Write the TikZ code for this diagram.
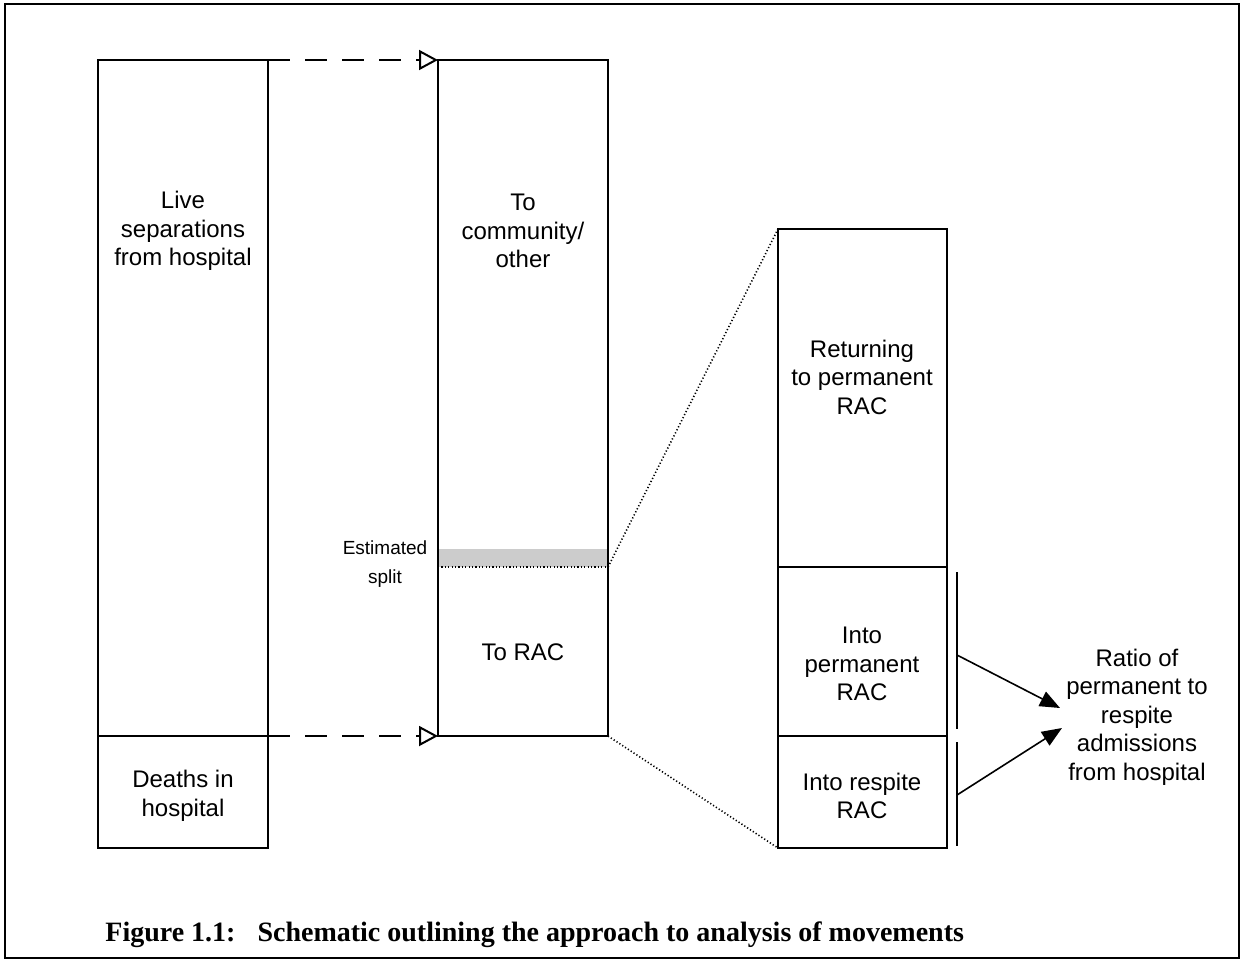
\documentclass[tikz,border=0pt]{standalone}
\usepackage{fontspec}
\setmainfont{Liberation Sans}
\newfontfamily\capfont{Liberation Serif}
\usetikzlibrary{arrows.meta}
\usetikzlibrary{positioning}

\tikzset{
  colbox/.style={line width=0.8pt},
  lbl/.style={align=center, font=\fontsize{12}{14.25}\selectfont},
  small/.style={align=center, font=\fontsize{9.5}{14.5}\selectfont},
  flow/.style={line width=1pt, dash pattern=on 11pt off 7.5pt, -{Triangle[open,length=9.5pt,width=10pt]}},
  zoomline/.style={line width=0.8pt, dash pattern=on 0.6pt off 1.1pt},
  ratio/.style={line width=0.8pt, -{Triangle[length=10pt,width=8pt]}},
}

\begin{document}
\begin{tikzpicture}[x=0.5pt,y=-0.5pt]
\useasboundingbox (0,0) rectangle (1244,965);

%frame
\draw[line width=1.2pt] (5,4) rectangle (1239,958);

%corners
\coordinate (sepNW) at (98,60);
\coordinate (sepNE) at (268,60);
\coordinate (sepMidE) at (268,736);
\coordinate (sepSE) at (268,848);
\coordinate (destNW) at (438,60);
\coordinate (destSW) at (438,736);
\coordinate (destSE) at (608,736);
\coordinate (destSplit) at (608,567);
\coordinate (racNW) at (778,229);
\coordinate (racSW) at (778,848);
\coordinate (racSE) at (947,848);

%grey band for the split
\fill[black!20] (438,549) rectangle (destSplit);

%boxes
\draw[colbox] (sepNW) rectangle (sepSE);
\draw[colbox] (98,736) -- (sepMidE);
\draw[colbox] (destNW) rectangle (destSE);
\draw[colbox] (racNW) rectangle (racSE);
\draw[colbox] (778,567) -- (947,567);
\draw[colbox] (778,736) -- (947,736);
\draw[zoomline] (438,567) -- (destSplit);

%flows
\draw[flow] (sepNE) -- (destNW);
\draw[flow] (sepMidE) -- (destSW);

%zoom lines
\draw[zoomline] (destSplit) -- (racNW);
\draw[zoomline] (destSE) -- (racSW);

%brackets
\coordinate (barPtop) at (957,572);
\coordinate (barPbot) at (957,729);
\coordinate (barRtop) at (957,742);
\coordinate (barRbot) at (957,846);
\draw[colbox] (barPtop) -- (barPbot);
\draw[colbox] (barRtop) -- (barRbot);

%labels
\node[lbl] (live) at (183,231) {Live\\separations\\from hospital};
\node[lbl] (deaths) at (183,796) {Deaths in\\hospital};
\node[lbl] (community) at (523,231) {To\\community/\\other};
\node[lbl] (torac) at (523,652) {To RAC};
\node[small] (split) at (385,564) {Estimated\\split};
\node[lbl] (returning) at (862,377) {Returning\\to permanent\\RAC};
\node[lbl] (intoperm) at (862,664) {Into\\permanent\\RAC};
\node[lbl] (intoresp) at (862,796) {Into respite\\RAC};
\node[lbl] (ratiotxt) at (1137,717) {Ratio of\\permanent to\\respite\\admissions\\from hospital};

%ratio arrows
\coordinate (permOut) at (957,655);
\coordinate (respOut) at (957,795);
\coordinate (tipA) at (1060,708);
\coordinate (tipB) at (1062,728);
\draw[ratio] (permOut) -- (tipA);
\draw[ratio] (respOut) -- (tipB);

%caption
\node[anchor=base west, inner sep=0pt, font=\capfont\bfseries\fontsize{14}{16}\selectfont] (caption) at (105,941)
  {Figure 1.1:\hspace{11pt}Schematic outlining the approach to analysis of movements};

\end{tikzpicture}
\end{document}
